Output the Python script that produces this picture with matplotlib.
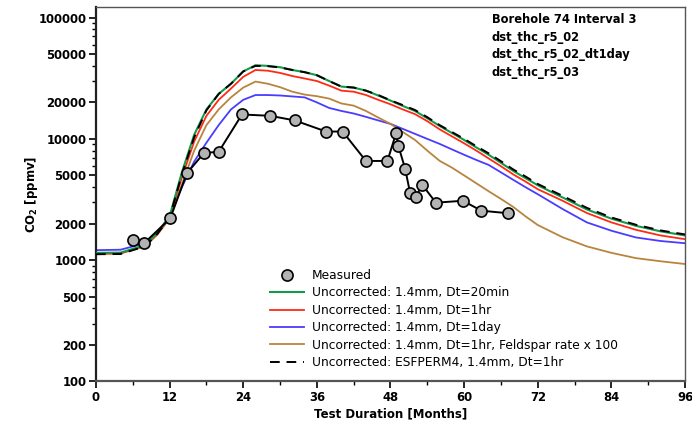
import matplotlib
matplotlib.use("Agg")
import matplotlib.pyplot as plt
from matplotlib.lines import Line2D
from matplotlib.ticker import FixedLocator, NullFormatter

# model output times (months)
months = [0, 4, 8, 10, 12, 14, 16, 18, 20, 22, 24, 26, 28, 30, 32, 34, 36, 38, 40,
          42, 44, 46, 48, 50, 52, 54, 56, 58, 60, 62, 64, 66, 68, 70, 72,
          76, 80, 84, 88, 92, 96]

co2_20min = [1150, 1155, 1330, 1680, 2300, 5300, 10800, 17500, 23500, 28500, 36000,
             40500, 40000, 39000, 37000, 35500, 33500, 30000, 27000, 26500, 25000,
             22800, 20700, 18700, 17000, 14800, 12800, 11200, 9800, 8500, 7400, 6350,
             5450, 4750, 4150, 3300, 2620, 2200, 1920, 1730, 1600]
co2_1hr = [1130, 1135, 1320, 1650, 2250, 4800, 9500, 15500, 21000, 26000, 32500,
           37000, 36500, 35000, 33000, 31500, 30000, 27500, 25000, 24500, 23000,
           21000, 19300, 17500, 16000, 14000, 12000, 10500, 9200, 8000, 6900, 5950,
           5100, 4450, 3850, 3100, 2450, 2050, 1780, 1600, 1490]
co2_1day = [1210, 1220, 1380, 1700, 2300, 4000, 6500, 9300, 13000, 17500, 21000,
            23000, 23000, 22800, 22400, 22000, 20000, 18000, 17000, 16200, 15200,
            14200, 13300, 12100, 11000, 10000, 9100, 8200, 7400, 6700, 6100, 5300,
            4600, 4000, 3500, 2650, 2050, 1750, 1540, 1440, 1380]
co2_feldspar = [1130, 1140, 1300, 1620, 2200, 4200, 8000, 13000, 17500, 22000, 26500,
                29700, 28500, 26700, 24500, 23200, 22500, 21500, 19600, 18800, 17000,
                15000, 13300, 11400, 9800, 8000, 6600, 5800, 5000, 4300, 3700, 3200,
                2750, 2300, 1950, 1550, 1300, 1150, 1040, 980, 930]
co2_esfperm4 = [1120, 1125, 1300, 1650, 2250, 5100, 10300, 17200, 23500, 28500, 36000,
                40000, 39800, 38800, 37000, 35500, 33500, 30000, 27000, 26500, 25000,
                23000, 20800, 19000, 17300, 15100, 13000, 11400, 10000, 8700, 7600, 6550,
                5600, 4900, 4250, 3400, 2700, 2250, 1960, 1760, 1630]

# field measurements
meas_months = [6.0, 7.9, 12.1, 14.8, 17.6, 20.0, 23.8, 28.4, 32.4, 37.5, 40.2,
               44.0, 47.5, 48.9, 49.3, 50.4, 51.2, 52.1, 53.2, 55.4, 59.8, 62.8, 67.1]
meas_co2 = [1460, 1390, 2210, 5200, 7650, 7830, 15900, 15500, 14200, 11500, 11500,
            6580, 6580, 11100, 8700, 5650, 3570, 3340, 4170, 2980, 3090, 2560, 2440]

series_labels = ["Uncorrected: 1.4mm, Dt=20min",
                 "Uncorrected: 1.4mm, Dt=1hr",
                 "Uncorrected: 1.4mm, Dt=1day",
                 "Uncorrected: 1.4mm, Dt=1hr, Feldspar rate x 100",
                 "Uncorrected: ESFPERM4, 1.4mm, Dt=1hr"]
run_names = ["Borehole 74 Interval 3", "dst_thc_r5_02", "dst_thc_r5_02_dt1day", "dst_thc_r5_03"]

y_ticks = [100, 200, 500, 1000, 2000, 5000, 10000, 20000, 50000, 100000]
x_ticks = [0, 12, 24, 36, 48, 60, 72, 84, 96]

fig = plt.figure(figsize=(6.92, 4.25), dpi=100)
ax = fig.add_axes([0.1387, 0.1024, 0.8512, 0.8818])

marker_style = dict(marker="o", ms=8, mfc="#b3b3b3", mec="black", mew=1.2)
ax.plot(meas_months, meas_co2, color="black", lw=1.4, zorder=6, **marker_style)
h_blue, = ax.plot(months, co2_1day, color="#4a3cff", lw=1.3, zorder=2)
h_brown, = ax.plot(months, co2_feldspar, color="#b8843e", lw=1.3, zorder=2)
h_red, = ax.plot(months, co2_1hr, color="#ff2a16", lw=1.3, zorder=3)
h_green, = ax.plot(months, co2_20min, color="#12994a", lw=1.5, zorder=4)
h_black, = ax.plot(months, co2_esfperm4, color="black", lw=1.4, ls=(0, (5, 3.5)), zorder=5)
h_meas = Line2D([], [], ls="none", **marker_style)

ax.set_yscale("log")
ax.set_xlim(0, 96)
ax.set_ylim(100, 123000)

ax.yaxis.set_major_locator(FixedLocator(y_ticks))
ax.set_yticklabels([str(v) for v in y_ticks])
minor_y = [m * 10 ** e for e in range(2, 6) for m in range(2, 10)
           if m * 10 ** e not in y_ticks and m * 10 ** e < 123000]
ax.yaxis.set_minor_locator(FixedLocator(minor_y))
ax.yaxis.set_minor_formatter(NullFormatter())
ax.set_xticks(x_ticks)
ax.set_xticks(list(range(6, 96, 12)), minor=True)

ax.tick_params(axis="both", which="major", direction="out", length=5, width=1.2,
               labelsize=8.4, pad=2)
ax.tick_params(axis="both", which="minor", direction="out", length=3, width=1.0)
for lab in ax.get_xticklabels() + ax.get_yticklabels():
    lab.set_fontweight("bold")

for side in ["left", "bottom"]:
    ax.spines[side].set_linewidth(1.6)
ax.spines["left"].set_color("#222222")
ax.spines["bottom"].set_color("#555555")
for side in ["top", "right"]:
    ax.spines[side].set_linewidth(1.0)
    ax.spines[side].set_color("#555555")

ax.set_xlabel("Test Duration [Months]", fontsize=8.5, fontweight="bold", labelpad=2)
ax.set_ylabel("CO$_\\mathbf{2}$ [ppmv]", fontsize=8.5, fontweight="bold", labelpad=-1)

ax.text(0.672, 0.982, "\n".join(run_names), transform=ax.transAxes, ha="left", va="top",
        fontsize=8.3, fontweight="bold", linespacing=1.45)

ax.legend([h_meas, h_green, h_red, h_blue, h_brown, h_black],
          ["Measured"] + series_labels,
          loc="upper left", bbox_to_anchor=(270 / 692, 1 - 269 / 425),
          bbox_transform=fig.transFigure, frameon=False, fontsize=8.8,
          handlelength=2.8, handletextpad=0.65, labelspacing=0.36,
          borderpad=0, borderaxespad=0)

fig.savefig("out.png", dpi=100)
